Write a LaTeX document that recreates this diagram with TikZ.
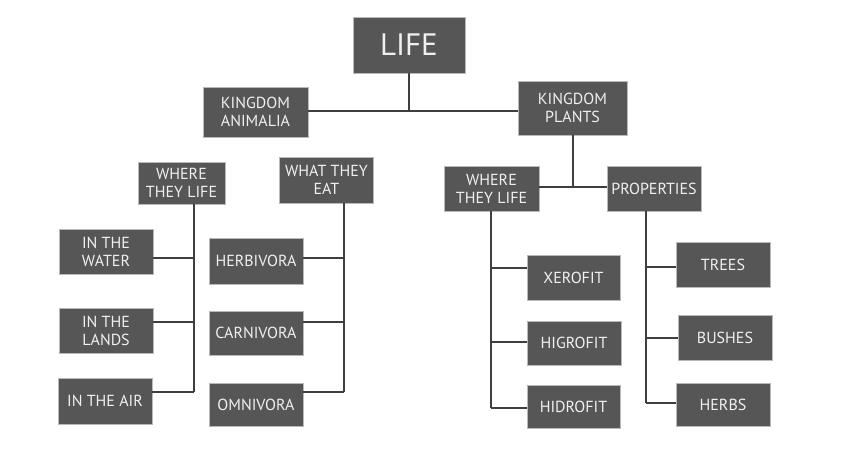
\documentclass[tikz,border=0pt]{standalone}
\usepackage{fontspec}
\setmainfont{PT Sans}
\definecolor{boxgray}{RGB}{86,86,86}
\definecolor{linegray}{RGB}{62,62,62}
\definecolor{boxtext}{RGB}{240,240,240}
\begin{document}
\begin{tikzpicture}[x=1pt,y=-1pt,
    box/.style={rectangle,draw=gray!55,line width=0.8pt,fill=boxgray,text=boxtext,
      inner sep=1pt,align=center,minimum width=94pt,minimum height=45pt,
      font=\fontsize{16}{18}\selectfont},
    link/.style={draw=linegray,line width=2pt}]
  \useasboundingbox[fill=white] (0,0) rectangle (853,451);
  % top levels
  \node (life) at(409,45) [box,minimum width=112pt,minimum height=56pt,font=\fontsize{31}{34}\selectfont] {LIFE};
  \node (animalia) at(255.5,112) [box,minimum width=105pt,minimum height=50pt] {KINGDOM\\ANIMALIA};
  \node (plants) at(572.5,108) [box,minimum width=109pt,minimum height=54pt] {KINGDOM\\PLANTS};
  % animals
  \node (awhere) at(181.5,183) [box,minimum width=87pt,minimum height=42pt] {WHERE\\THEY LIFE};
  \node (eat) at(326.5,180) [box,minimum height=46pt] {WHAT THEY\\EAT};
  \node (water) at(106,251.5) [box] {IN THE\\WATER};
  \node (lands) at(106,330.5) [box] {IN THE\\LANDS};
  \node (air) at(105,401) [box,minimum height=46pt] {IN THE AIR};
  \node (herbivora) at(256,261) [box,minimum height=46pt] {HERBIVORA};
  \node (carnivora) at(256,333) [box,minimum height=44pt] {CARNIVORA};
  \node (omnivora) at(256,404.5) [box,minimum height=43pt] {OMNIVORA};
  % plants
  \node (pwhere) at(491.5,188.5) [box,minimum width=95pt] {WHERE\\THEY LIFE};
  \node (properties) at(654,188.5) [box] {PROPERTIES};
  \node (xerofit) at(573.5,277.5) [box,minimum width=93pt] {XEROFIT};
  \node (higrofit) at(574,343) [box,minimum height=44pt] {HIGROFIT};
  \node (hidrofit) at(573.5,406.5) [box,minimum width=93pt,minimum height=43pt] {HIDROFIT};
  \node (trees) at(723,264.5) [box] {TREES};
  \node (bushes) at(725,337.5) [box] {BUSHES};
  \node (herbs) at(723,404.5) [box,minimum height=43pt] {HERBS};

  % bus points
  \coordinate (k) at(409,111);
  \coordinate (p) at(573,187);
  \coordinate (aw1) at(194,258);
  \coordinate (aw2) at(194,322);
  \coordinate (aw3) at(194,392);
  \coordinate (ae1) at(344,258);
  \coordinate (ae2) at(344,322);
  \coordinate (ae3) at(344,392);
  \coordinate (pw1) at(491,268);
  \coordinate (pw2) at(491,342);
  \coordinate (pw3) at(491,408);
  \coordinate (pp1) at(646,267);
  \coordinate (pp2) at(646,338);
  \coordinate (pp3) at(646,403);

  \draw[link] (life) -- (k);
  \draw[link] (animalia.east |- k) -- (plants.west |- k);
  \draw[link] (plants.south -| p) -- (p);
  \draw[link] (pwhere.east |- p) -- (properties.west |- p);

  \draw[link] (awhere.south -| aw1) -- (aw3);
  \draw[link] (water.east |- aw1) -- (aw1);
  \draw[link] (lands.east |- aw2) -- (aw2);
  \draw[link] (air.east |- aw3) -- (aw3);

  \draw[link] (eat.south -| ae1) -- (ae3);
  \draw[link] (herbivora.east |- ae1) -- (ae1);
  \draw[link] (carnivora.east |- ae2) -- (ae2);
  \draw[link] (omnivora.east |- ae3) -- (ae3);

  \draw[link] (pwhere.south -| pw1) -- (pw3);
  \draw[link] (xerofit.west |- pw1) -- (pw1);
  \draw[link] (higrofit.west |- pw2) -- (pw2);
  \draw[link] (hidrofit.west |- pw3) -- (pw3);

  \draw[link] (properties.south -| pp1) -- (pp3);
  \draw[link] (trees.west |- pp1) -- (pp1);
  \draw[link] (bushes.west |- pp2) -- (pp2);
  \draw[link] (herbs.west |- pp3) -- (pp3);
\end{tikzpicture}
\end{document}
